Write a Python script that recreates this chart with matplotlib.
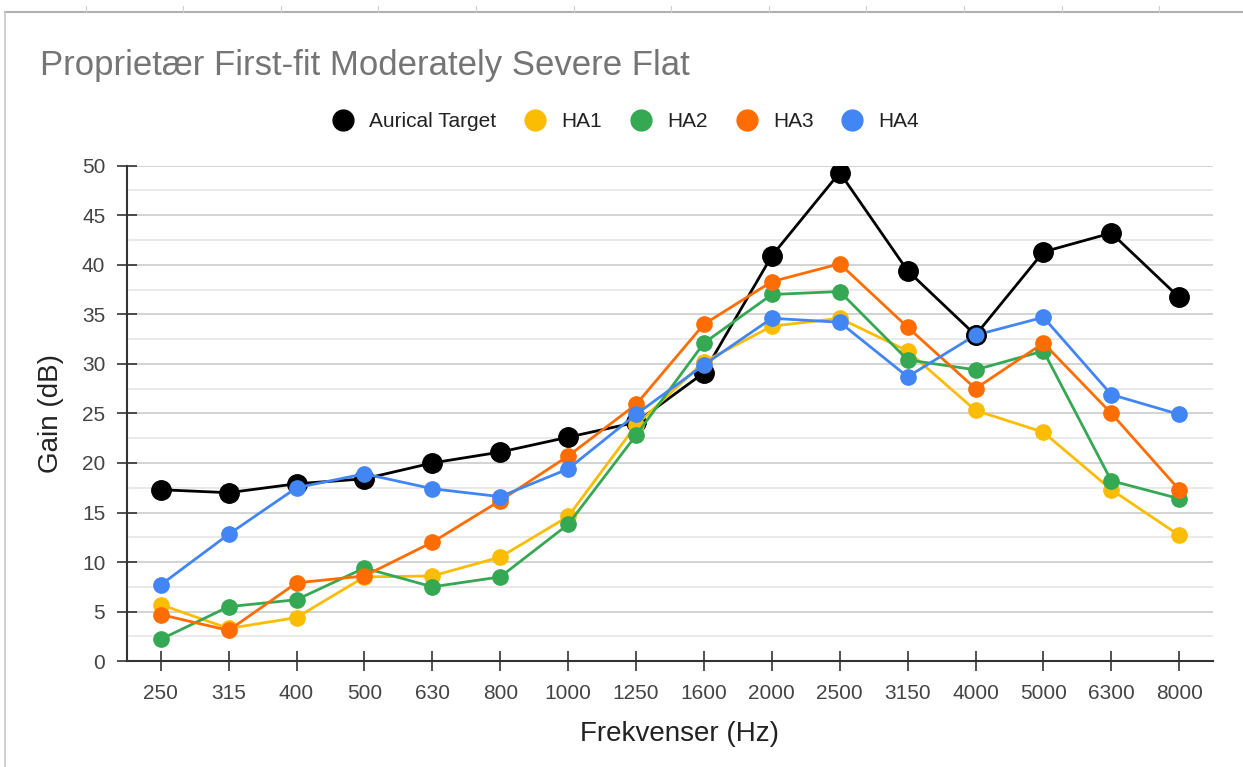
import numpy as np
import matplotlib.pyplot as plt
from matplotlib.lines import Line2D

plt.rcParams['font.family'] = ['Liberation Sans', 'DejaVu Sans']

freqs = ['250', '315', '400', '500', '630', '800', '1000', '1250', '1600',
         '2000', '2500', '3150', '4000', '5000', '6300', '8000']
target = [17.3, 17.0, 17.9, 18.4, 20.0, 21.1, 22.6, 24.1, 29.1, 40.9, 49.3, 39.4, 32.9, 41.3, 43.2, 36.7]
ha1 = [5.7, 3.3, 4.4, 8.5, 8.6, 10.5, 14.6, 23.8, 30.2, 33.8, 34.6, 31.3, 25.3, 23.1, 17.3, 12.7]
ha2 = [2.2, 5.5, 6.2, 9.4, 7.5, 8.5, 13.8, 22.8, 32.1, 37.0, 37.3, 30.4, 29.4, 31.3, 18.2, 16.4]
ha3 = [4.7, 3.1, 7.9, 8.6, 12.0, 16.2, 20.7, 25.9, 34.0, 38.3, 40.1, 33.7, 27.5, 32.1, 25.0, 17.3]
ha4 = [7.7, 12.8, 17.5, 18.9, 17.4, 16.6, 19.4, 24.9, 29.9, 34.6, 34.2, 28.7, 32.9, 34.7, 26.9, 24.9]

x = np.arange(len(freqs))

fig = plt.figure(figsize=(12.43, 7.67), dpi=100)
ax = fig.add_axes([0.102, 0.138, 0.874, 0.646])

# spreadsheet frame around the chart
fig.add_artist(Line2D([0.004, 1.0], [0.984, 0.984], color='#b0b0b0', lw=1.5))
fig.add_artist(Line2D([0.004, 0.004], [0.0, 0.984], color='#c8c8c8', lw=1.2))
for tx in np.arange(0.069, 1.0, 0.0785):
    fig.add_artist(Line2D([tx, tx], [0.984, 0.992], color='#d0d0d0', lw=0.8))

ax.plot(x, target, color='black', lw=2, marker='o', ms=14, label='Aurical Target', zorder=3)
ax.plot(x, ha1, color='#fbbc04', lw=2, marker='o', ms=11, label='HA1', zorder=4)
ax.plot(x, ha2, color='#34a853', lw=2, marker='o', ms=11, label='HA2', zorder=5)
ax.plot(x, ha3, color='#ff6d01', lw=2, marker='o', ms=11, label='HA3', zorder=6)
ax.plot(x, ha4, color='#4285f4', lw=2, marker='o', ms=11, label='HA4', zorder=7)
# highlighted point (hover)
ax.plot(x[12], ha4[12], marker='o', ms=13, color='#4285f4', mec='black', mew=1.5, zorder=8)

ax.set_xlim(-0.5, 15.5)
ax.set_ylim(0, 50)
ax.set_xticks(x)
ax.set_xticklabels(freqs)
ax.set_yticks(np.arange(0, 51, 5))
ax.set_yticks(np.arange(2.5, 50, 5), minor=True)
ax.grid(axis='y', which='major', color='#cccccc', lw=1.2)
ax.grid(axis='y', which='minor', color='#e6e6e6', lw=1.2)
ax.set_axisbelow(True)

for s in ['top', 'right']:
    ax.spines[s].set_visible(False)
ax.spines['left'].set_color('#333333')
ax.spines['bottom'].set_color('#333333')
ax.spines['left'].set_linewidth(1.5)
ax.spines['bottom'].set_linewidth(1.5)
ax.tick_params(axis='both', which='major', labelsize=15, labelcolor='#444444',
               color='#333333', direction='inout', length=15, width=1.2)
ax.tick_params(axis='x', which='major', pad=9)
ax.tick_params(axis='y', which='major', pad=8)
ax.tick_params(axis='y', which='minor', length=0)

ax.set_xlabel('Frekvenser (Hz)', fontsize=20, color='#222222')
ax.set_ylabel('Gain (dB)', fontsize=20, color='#222222')
ax.xaxis.set_label_coords(0.509, -0.12)
ax.yaxis.set_label_coords(-0.058, 0.5)

fig.text(0.032, 0.915, 'Proprietær First-fit Moderately Severe Flat', fontsize=25,
         color='#757575', va='center', ha='left')

leg = fig.legend(loc='center', bbox_to_anchor=(0.5036, 0.841), ncol=5, frameon=False,
                 fontsize=15, handlelength=1.0, handletextpad=0.75, columnspacing=1.375)
for h in leg.legend_handles:
    h.set_linestyle('none')
    h.set_markersize(15)
for t in leg.get_texts():
    t.set_color('#222222')

fig.savefig('out.png', dpi=100)
